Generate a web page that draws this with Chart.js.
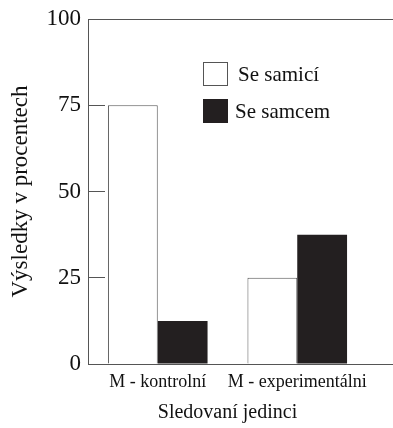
<!DOCTYPE html>
<html>
<head>
<meta charset="utf-8">
<script src="https://cdn.jsdelivr.net/npm/chart.js@4"></script>
<style>
  html, body { margin: 0; padding: 0; background: #fff; }
  #wrap { width: 393px; height: 428px; }
</style>
</head>
<body>
<div id="wrap"><canvas id="resultsChart"></canvas></div>
<script>
const categories = ['M - kontrolní', 'M - experimentálni'];
const seriesNames = ['Se samicí', 'Se samcem'];
const withFemale = [75, 25];
const withMale = [12.5, 37.5];
const yTicks = [0, 25, 50, 75, 100];

const axisColor = '#555';
const serif = '"Times New Roman", serif';

// legend box in the upper right of the plot + top/bottom lines running to the edge
const extras = {
    id: 'extras',
    afterDraw(chart) {
        const ctx = chart.ctx;
        const area = chart.chartArea;
        const y = chart.scales.y;
        ctx.save();
        ctx.strokeStyle = axisColor;
        ctx.lineWidth = 1;
        [100, 0].forEach(v => {
            const py = Math.round(y.getPixelForValue(v)) + 0.5;
            ctx.beginPath();
            ctx.moveTo(area.right - 1, py);
            ctx.lineTo(chart.width, py);
            ctx.stroke();
        });

        const rows = [{ top: 62, textX: 238 }, { top: 99, textX: 235 }];
        chart.data.datasets.forEach((ds, i) => {
            const r = rows[i];
            ctx.fillStyle = ds.backgroundColor;
            ctx.fillRect(203, r.top, 25, 24);
            ctx.strokeStyle = ds.borderColor;
            ctx.strokeRect(203.5, r.top + 0.5, 24, 23);
            ctx.fillStyle = '#111';
            ctx.font = '21px ' + serif;
            ctx.textBaseline = 'middle';
            ctx.textAlign = 'left';
            ctx.fillText(ds.label, r.textX, r.top + 13);
        });
        ctx.restore();
    }
};

new Chart(document.getElementById('resultsChart').getContext('2d'), {
    type: 'bar',
    data: {
        labels: categories,
        datasets: [{
            label: seriesNames[0],
            data: withFemale,
            backgroundColor: '#ffffff',
            borderColor: '#555',
            borderWidth: 1,
            borderSkipped: 'bottom'
        }, {
            label: seriesNames[1],
            data: withMale,
            backgroundColor: '#231f20',
            borderColor: '#231f20',
            borderWidth: 0
        }]
    },
    options: {
        animation: false,
        responsive: true,
        maintainAspectRatio: false,
        layout: { padding: { top: 19, right: 26, left: 0, bottom: 0 } },
        datasets: {
            bar: { categoryPercentage: 0.714, barPercentage: 1 }
        },
        scales: {
            x: {
                afterFit: s => { s.height = 64; },
                grid: { drawOnChartArea: false, drawTicks: false },
                border: { display: true, color: axisColor, width: 1 },
                ticks: {
                    color: '#111',
                    padding: 7,
                    maxRotation: 0,
                    minRotation: 0,
                    autoSkip: false,
                    font: { family: serif, size: 18 }
                },
                title: {
                    display: true,
                    text: 'Sledovaní jedinci',
                    color: '#111',
                    padding: { top: 0, bottom: 3 },
                    font: { family: serif, size: 20 }
                }
            },
            y: {
                min: 0,
                max: 100,
                afterFit: s => { s.width = 88; s.paddingTop = 0; s.paddingBottom = 0; },
                afterBuildTicks: s => { s.ticks = yTicks.map(v => ({ value: v })); },
                grid: {
                    drawOnChartArea: true,
                    color: c => (c.tick && c.tick.value === 100) ? axisColor : 'rgba(0,0,0,0)',
                    tickColor: axisColor,
                    tickLength: -17
                },
                border: { display: true, color: axisColor, width: 1 },
                ticks: {
                    color: '#111',
                    padding: 24,
                    font: { family: serif, size: 23 }
                },
                title: {
                    display: true,
                    text: 'Výsledky v procentech',
                    color: '#111',
                    padding: { top: 7, bottom: 0 },
                    font: { family: serif, size: 23 }
                }
            }
        },
        plugins: {
            legend: { display: false },
            tooltip: { enabled: false }
        }
    },
    plugins: [extras]
});
</script>
</body>
</html>
